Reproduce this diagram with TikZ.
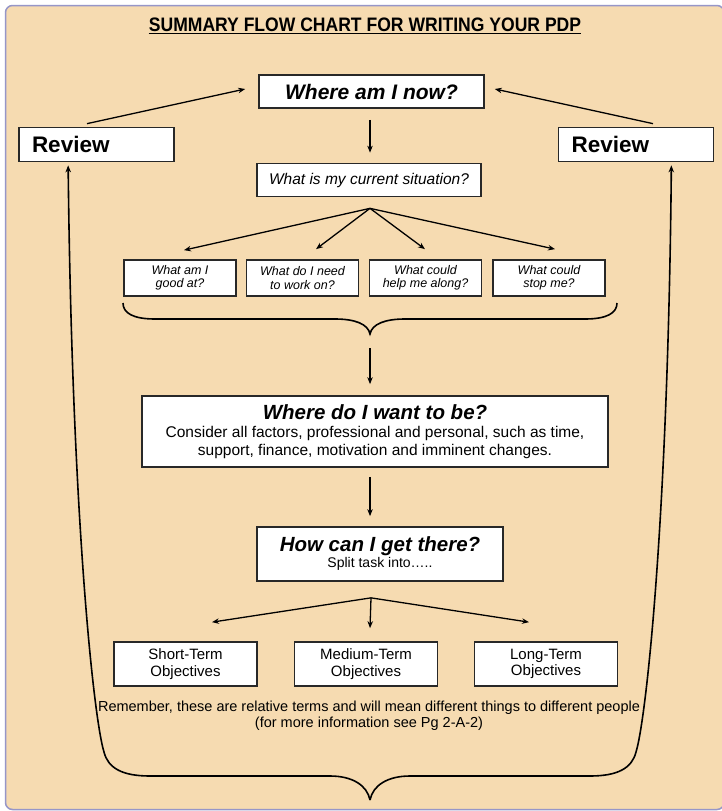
\documentclass[tikz,border=0pt]{standalone}
\usepackage{fontspec}
\setmainfont{Liberation Sans}
\newfontfamily\narrowfont[FakeStretch=0.9]{Liberation Sans}
\usetikzlibrary{arrows.meta,calc}
\definecolor{bg}{RGB}{246,219,177}
\definecolor{framec}{RGB}{150,150,200}
\definecolor{boxline}{RGB}{40,40,40}
\begin{document}
\begin{tikzpicture}[x=1pt,y=-1pt,
  box/.style={draw=boxline,line width=1.7pt,fill=white,inner sep=0pt,align=center},
  qbox/.style={box,minimum width=112pt,minimum height=36pt,font=\itshape\fontsize{12.5}{13.5}\selectfont},
  obox/.style={box,minimum width=143pt,minimum height=44pt,font=\fontsize{15}{16.5}\selectfont},
  revbox/.style={box,minimum width=155pt,minimum height=34pt,text width=129pt,align=left,font=\bfseries\fontsize{22.5}{22.5}\selectfont},
  arr/.style={line width=1.3pt,-{Stealth[length=7pt,width=5.5pt]}},
  bracel/.style={line width=1.6pt}]
\useasboundingbox (0,0) rectangle (721,811);
\fill[white] (0,0) rectangle (721,811);
\draw[fill=bg,draw=framec,line width=1.5pt,rounded corners=7pt] (5.5,5.5) rectangle (724,809.5);

% title
\node[inner sep=0pt,anchor=base,font=\narrowfont\bfseries\fontsize{19.5}{19.5}\selectfont] (title) at (365,31) {SUMMARY FLOW CHART FOR WRITING YOUR PDP};
\draw[line width=1.3pt] ([yshift=-2.5pt]title.base west) -- ([yshift=-2.5pt]title.base east);

% boxes
\node[box,minimum width=225pt,minimum height=33pt,font=\bfseries\itshape\fontsize{21}{21}\selectfont] (now) at (371.5,91.5) {Where am I now?};
\node[revbox] (revL) at (96.5,144.5) {Review};
\node[revbox] (revR) at (636,144.5) {Review};
\node[box,minimum width=224pt,minimum height=33pt,font=\itshape\fontsize{15.5}{15.5}\selectfont] (sit) at (369,180) {What is my current situation?};

\node[qbox] (q1) at (180,278) {What am I\\good at?};
\node[qbox] (q2) at (302.5,278) {What do I need\\to work on?};
\node[qbox] (q3) at (425.5,278) {What could\\help me along?};
\node[qbox] (q4) at (549,278) {What could\\stop me?};

\node[box,minimum width=466pt,minimum height=71pt,font=\fontsize{15.5}{17.5}\selectfont] (want) at (375,431.5)
  {{\fontsize{20.5}{20.5}\selectfont\bfseries\itshape Where do I want to be?}\\[1pt]Consider all factors, professional and personal, such as time,\\support, finance, motivation and imminent changes.};

\node[box,minimum width=246pt,minimum height=54pt,font=\fontsize{14}{16}\selectfont] (how) at (380,554)
  {{\fontsize{20.5}{20.5}\selectfont\bfseries\itshape How can I get there?}\\Split task into…..};

\node[obox] (ob1) at (185.5,664) {Short-Term\\Objectives};
\node[obox] (ob2) at (366,664) {Medium-Term\\Objectives};
\node[obox] (ob3) at (546,664) {Long-Term\\Objectives};

\node[inner sep=0pt,align=center,font=\fontsize{14.5}{16}\selectfont] (rem) at (369,716)
  {Remember, these are relative terms and will mean different things to different people\\(for more information see Pg 2-A-2)};

% connectors
\draw[arr] ($(revL.north)+(-9.5,-3)$) -- ($(now.west)+(-13,-2.5)$);
\draw[arr] ($(revR.north)+(17,-3)$) -- ($(now.east)+(10,-2.5)$);
\draw[arr] ($(now.south)+(-1.5,11)$) -- ($(sit.north)+(1,-10)$);

\coordinate (fan1) at ($(sit.south)+(1,11)$);
\draw[arr] (fan1) -- ($(q1.north)+(4,-9)$);
\draw[arr] (fan1) -- ($(q2.north)+(13.5,-10)$);
\draw[arr] (fan1) -- ($(q3.north)+(-0.5,-10)$);
\draw[arr] (fan1) -- ($(q4.north)+(6,-10)$);

% small brace
\coordinate (btip) at (370,334);
\draw[bracel] (123,303) .. controls (123,313) and (133,319) .. (155,319) -- (335,319)
  .. controls (355,319) and (368,324) .. (btip)
  .. controls (372,324) and (385,319) .. (405,319) -- (585,319)
  .. controls (607,319) and (617,313) .. (617,303);
\draw[arr] ($(btip)+(0,14)$) -- ($(want.north)+(-5,-11)$);

\draw[arr] ($(want.south)+(-5,9)$) -- ($(how.north)+(-10,-10)$);

\coordinate (fan2) at ($(how.south)+(-9,16)$);
\draw[arr] (fan2) -- ($(ob1.north)+(26.5,-19)$);
\draw[arr] (fan2) -- ($(ob2.north)+(4,-13)$);
\draw[arr] (fan2) -- ($(ob3.north)+(-17,-19)$);

% big brace feeding back to the reviews
\coordinate (bigtip) at (370,800);
\draw[arr,line width=1.6pt] (bigtip) .. controls (367,785) and (352,776) .. (330,776) -- (150,776)
  .. controls (122,776) and (108,768) .. (104,752)
  .. controls (94,720) and (72,520) .. ($(revL.south west)+(50,3)$);
\draw[arr,line width=1.6pt] (bigtip) .. controls (373,785) and (388,776) .. (410,776) -- (590,776)
  .. controls (618,776) and (632,768) .. (636,752)
  .. controls (646,720) and (668,520) .. ($(revR.south east)+(-43,3)$);
\end{tikzpicture}
\end{document}
